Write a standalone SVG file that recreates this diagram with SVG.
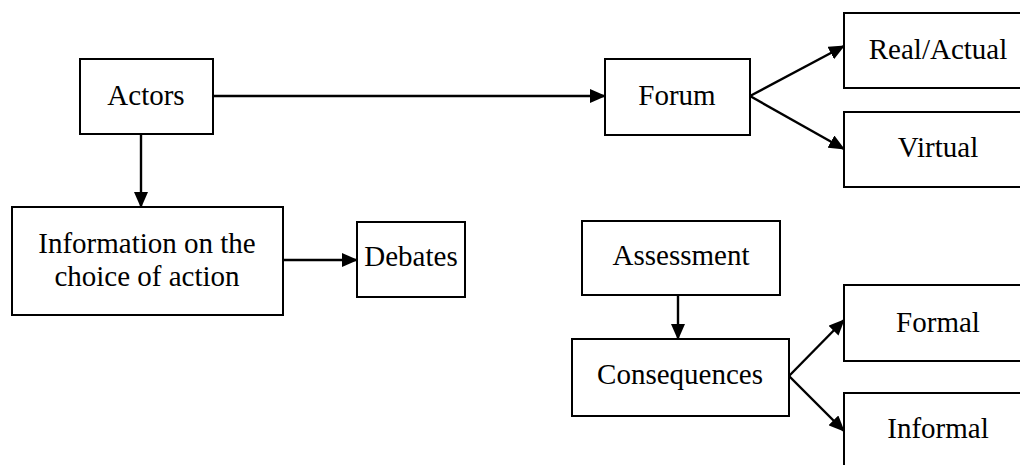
<svg xmlns="http://www.w3.org/2000/svg" width="1020" height="465" viewBox="0 0 1020 465">
<style>
.box{fill:#fff;stroke:#000;stroke-width:2}
.t{font-size:29px;fill:#000;text-anchor:middle}
.c{stroke:#000;stroke-width:2.4;fill:none;marker-end:url(#ah)}
</style>
<defs>
<marker id="ah" markerWidth="16" markerHeight="14" refX="15" refY="7" orient="auto" markerUnits="userSpaceOnUse">
<path d="M0,0 L16,7 L0,14 Z" fill="#000"/>
</marker>
</defs>
<rect width="1020" height="465" fill="#fff"/>
<g id="connectors">
<line class="c" x1="213" y1="96" x2="605" y2="96"/>
<line class="c" x1="141" y1="134" x2="141" y2="207"/>
<line class="c" x1="283" y1="260" x2="357" y2="260"/>
<line class="c" x1="750" y1="96" x2="844" y2="46"/>
<line class="c" x1="750" y1="96" x2="844" y2="149"/>
<line class="c" x1="678" y1="295" x2="678" y2="339"/>
<line class="c" x1="789" y1="376" x2="844" y2="320"/>
<line class="c" x1="789" y1="376" x2="844" y2="431"/>
</g>
<g font-family="'Liberation Serif', 'Times New Roman', 'DejaVu Serif', serif">
<g id="actors"><rect class="box" x="80" y="59" width="133" height="75"/><text class="t" x="146" y="105">Actors</text></g>
<g id="forum"><rect class="box" x="605" y="59" width="145" height="76"/><text class="t" x="677" y="105">Forum</text></g>
<g id="real"><rect class="box" x="844" y="13" width="190" height="75"/><text class="t" x="938" y="59">Real/Actual</text></g>
<g id="virtual"><rect class="box" x="844" y="112" width="190" height="75"/><text class="t" x="938" y="157">Virtual</text></g>
<g id="information"><rect class="box" x="12" y="207" width="271" height="108"/><text class="t" x="147" y="253">Information on the</text><text class="t" x="147" y="286">choice of action</text></g>
<g id="debates"><rect class="box" x="357" y="222" width="108" height="75"/><text class="t" x="411" y="266">Debates</text></g>
<g id="assessment"><rect class="box" x="582" y="221" width="198" height="74"/><text class="t" x="681" y="265">Assessment</text></g>
<g id="consequences"><rect class="box" x="572" y="339" width="217" height="77"/><text class="t" x="680" y="384">Consequences</text></g>
<g id="formal"><rect class="box" x="844" y="285" width="190" height="76"/><text class="t" x="938" y="332">Formal</text></g>
<g id="informal"><rect class="box" x="844" y="393" width="190" height="80"/><text class="t" x="938" y="438">Informal</text></g>
</g>
</svg>
